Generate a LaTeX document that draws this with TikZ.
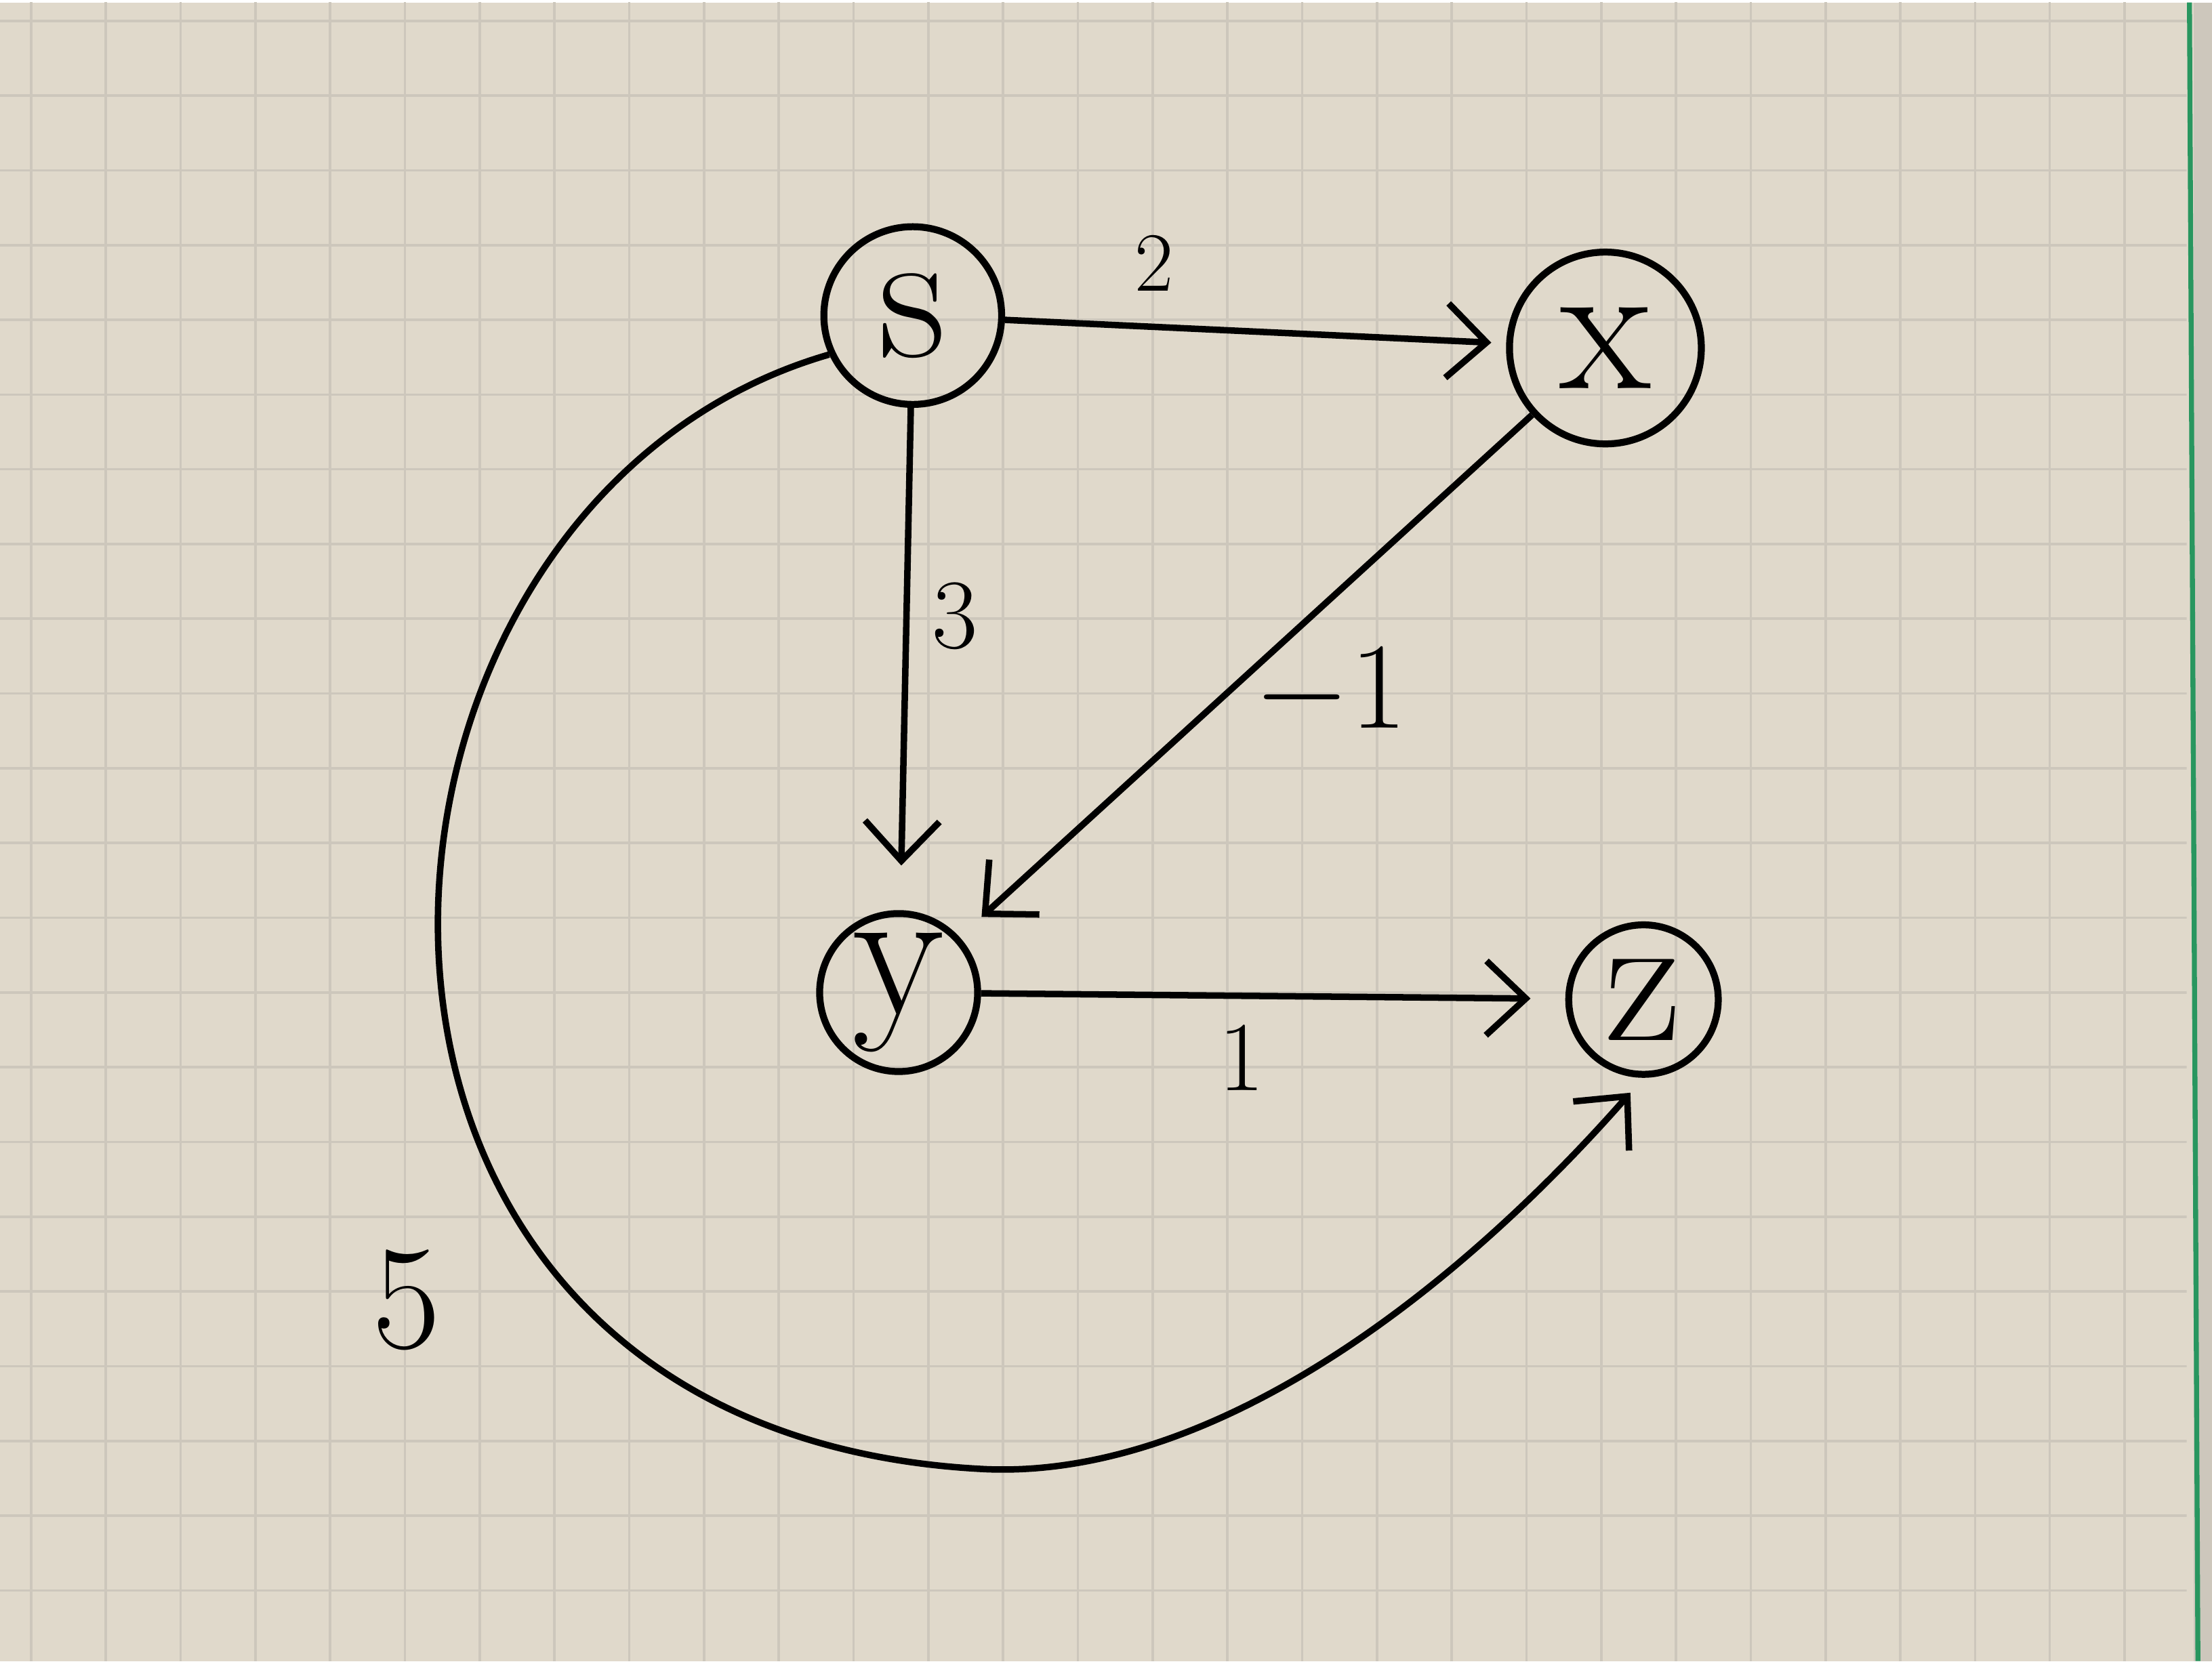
\documentclass[tikz,border=0pt]{standalone}
\usetikzlibrary{arrows.meta}
\definecolor{paper}{RGB}{224,217,203}
\definecolor{gridline}{RGB}{205,199,188}
\definecolor{margin}{RGB}{40,150,95}
\tikzset{
  vertex/.style={draw,circle,line width=1.4pt,inner sep=0pt,font=\fontsize{38}{42}\selectfont},
  weight/.style={font=\fontsize{20}{24}\selectfont},
  edge/.style={line width=1.3pt,-{Straight Barb[length=8pt,width=15pt,line width=1.3pt]},shorten >=6pt}
}
\begin{document}
\begin{tikzpicture}
\fill[paper] (0,0) rectangle (15.68,11.76);
\begin{scope}
\clip (0,0) rectangle (15.5,11.76);
\draw[gridline,line width=0.5pt,shift={(0.22,0.50)},step=0.53] (-0.53,-0.53) grid (15.9,12.3);
\end{scope}
\fill[gridline] (15.55,0) rectangle (15.68,11.76);
\draw[margin,line width=1pt] (15.52,11.76) -- (15.58,0);

\node[vertex,minimum size=1.26cm] (s) at (6.47,9.54) {s};
\node[vertex,minimum size=1.36cm] (x) at (11.38,9.31) {x};
\node[vertex,minimum size=1.12cm] (y) at (6.37,4.74) {y};
\node[vertex,minimum size=1.06cm] (z) at (11.65,4.69) {z};
\coordinate (low) at (7.0,1.36);

\draw[edge,shorten >=3pt] (s) -- (x);
\draw[edge,shorten >=9pt] (s) -- (y);
\draw[edge] (x) -- (y);
\draw[edge,shorten >=7pt] (y) -- (z);
\draw[edge,shorten >=4pt] (s.205) .. controls (2.2,8.2) and (1.8,1.6) .. (low)
  .. controls (8.6,1.3) and (10.3,2.6) .. (z.south);

\node[weight,font=\fontsize{17}{20}\selectfont] (wsx) at (8.18,9.91) {2};
\node[weight] (wsy) at (6.77,7.41) {3};
\node[weight,font=\fontsize{24}{28}\selectfont] (wxy) at (9.43,6.86) {$-1$};
\node[weight] (wyz) at (8.80,4.28) {1};
\node[weight,font=\fontsize{30}{34}\selectfont] (wsz) at (2.88,2.56) {5};
\end{tikzpicture}
\end{document}
